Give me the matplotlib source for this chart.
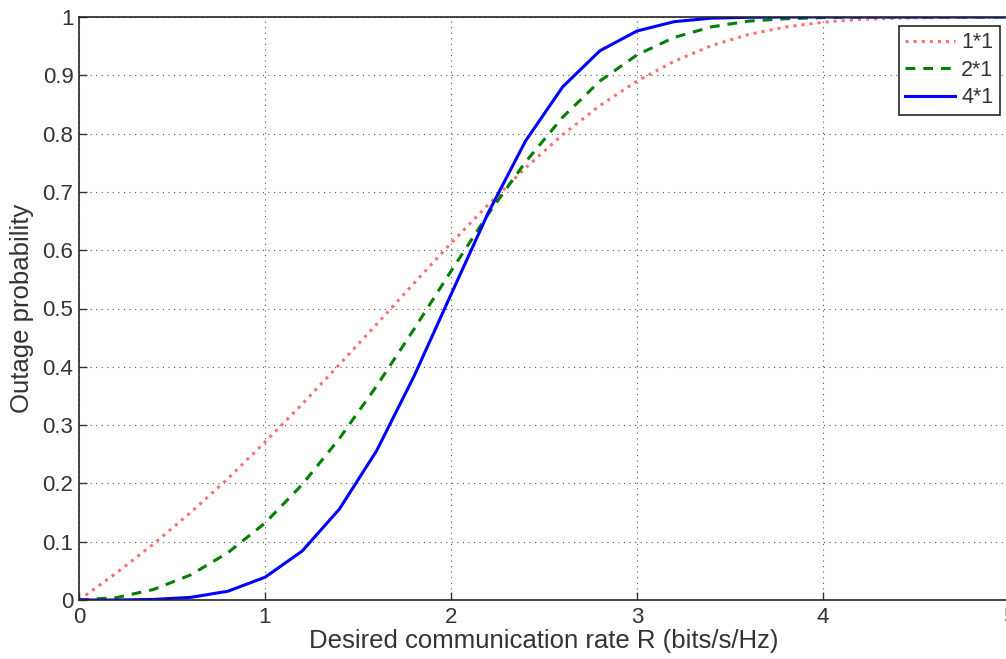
import matplotlib
matplotlib.use("Agg")
import matplotlib.pyplot as plt

rate = [0.0, 0.2, 0.4, 0.6, 0.8, 1.0, 1.2, 1.4, 1.6, 1.8, 2.0, 2.2, 2.4, 2.6,
        2.8, 3.0, 3.2, 3.4, 3.6, 3.8, 4.0, 4.2, 4.4, 4.6, 4.8, 5.0]
p_1x1 = [0.0, 0.046, 0.096, 0.150, 0.208, 0.271, 0.336, 0.404, 0.473, 0.543,
         0.612, 0.678, 0.741, 0.798, 0.848, 0.890, 0.924, 0.951, 0.970, 0.983,
         0.991, 0.996, 0.998, 0.999, 1.0, 1.0]
p_2x1 = [0.0, 0.004, 0.018, 0.043, 0.081, 0.132, 0.198, 0.277, 0.367, 0.464,
         0.564, 0.662, 0.751, 0.828, 0.890, 0.935, 0.965, 0.983, 0.993, 0.997,
         0.999, 1.0, 1.0, 1.0, 1.0, 1.0]
p_4x1 = [0.0, 0.0, 0.001, 0.0045, 0.015, 0.039, 0.084, 0.156, 0.256, 0.383,
         0.524, 0.664, 0.787, 0.880, 0.942, 0.976, 0.992, 0.998, 0.9995, 1.0,
         1.0, 1.0, 1.0, 1.0, 1.0, 1.0]
labels = ["1*1", "2*1", "4*1"]
xticks = [0, 1, 2, 3, 4, 5]
yticks = [0, 0.1, 0.2, 0.3, 0.4, 0.5, 0.6, 0.7, 0.8, 0.9, 1]
yticklabels = ["0", "0.1", "0.2", "0.3", "0.4", "0.5", "0.6", "0.7", "0.8", "0.9", "1"]

plt.rcParams["font.family"] = ["Liberation Sans", "DejaVu Sans"]

W, H = 1006, 659
fig = plt.figure(figsize=(W / 100, H / 100), dpi=100)
x0, x1 = 79, 1009
y0, y1 = 600, 17
ax = fig.add_axes([x0 / W, (H - y0) / H, (x1 - x0) / W, (y0 - y1) / H])

ax.plot(rate, p_1x1, linestyle=":", color="#ff7070", lw=2.2, label=labels[0])
ax.plot(rate, p_2x1, linestyle="--", color="#008000", lw=2.2, label=labels[1],
        dashes=(3.2, 2.6))
ax.plot(rate, p_4x1, linestyle="-", color="#0000ff", lw=2.2, label=labels[2])

ax.set_xlim(0, 5)
ax.set_ylim(0, 1)
ax.set_xticks(xticks)
ax.set_xticklabels([str(t) for t in xticks])
ax.set_yticks(yticks)
ax.set_yticklabels(yticklabels)
ax.grid(True, linestyle=(0, (1, 4)), color="#555555", lw=0.8)
ax.tick_params(direction="in", length=6, width=1, labelsize=16,
               colors="#333333", top=False, right=False)
ax.tick_params(axis="x", pad=5)
ax.tick_params(axis="y", pad=4)
for s in ax.spines.values():
    s.set_linewidth(1.2)
    s.set_color("#262626")

ax.set_xlabel("Desired communication rate R (bits/s/Hz)", fontsize=18.5,
              color="#333333", labelpad=1)
ax.set_ylabel("Outage probability", fontsize=18.5, color="#333333", labelpad=6)

leg = ax.legend(loc="upper right", bbox_to_anchor=(0.990, 0.985),
                borderaxespad=0, fontsize=15.5, handlelength=2.3,
                handletextpad=0.3, labelspacing=0.3, borderpad=0.3,
                fancybox=False, framealpha=1)
for t in leg.get_texts():
    t.set_color("#333333")
leg.get_frame().set_edgecolor("#262626")
leg.get_frame().set_linewidth(1.2)

fig.savefig("out.png", dpi=100)
